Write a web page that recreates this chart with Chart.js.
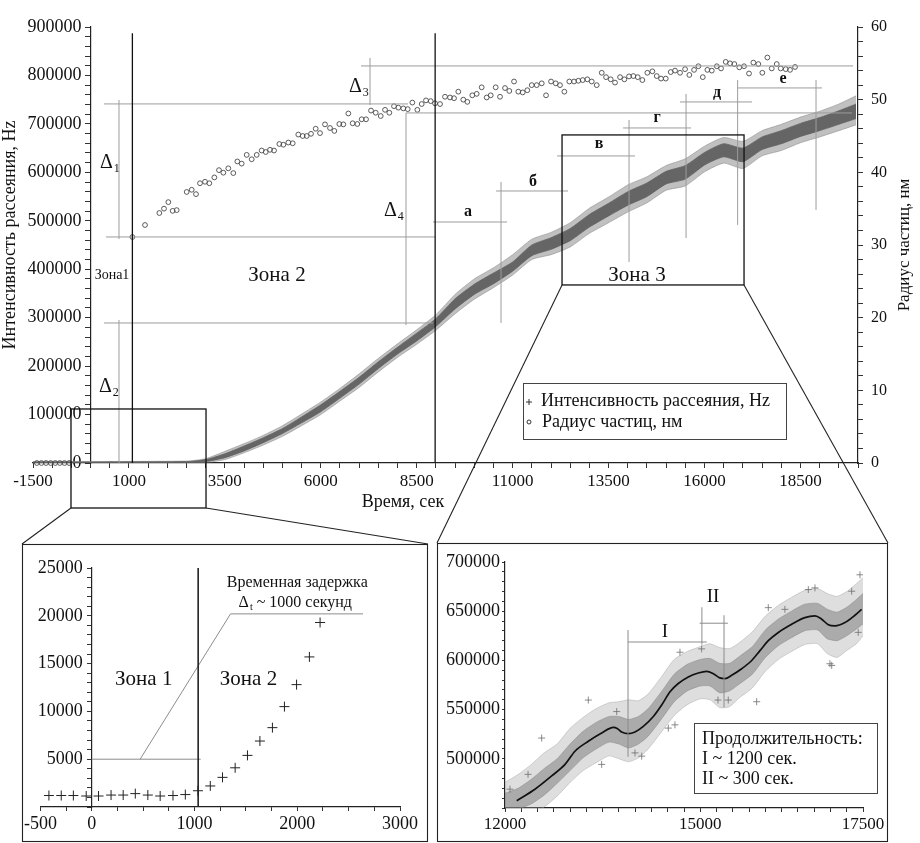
<!DOCTYPE html>
<html lang="ru">
<head>
<meta charset="UTF-8">
<script src="https://cdn.jsdelivr.net/npm/chart.js"></script>
<style>
  body { margin: 0; background: #fff; }
  #wrap { position: relative; width: 920px; height: 843px; }
  canvas { position: absolute; }
</style>
<title>Интенсивность рассеяния и радиус частиц</title>
</head>
<body>
<div id="wrap">
  <canvas id="mainChart" width="920" height="843" style="left:0;top:0"></canvas>
  <canvas id="zoomLeft" width="406" height="298" style="left:22px;top:544px"></canvas>
  <canvas id="zoomRight" width="451" height="299" style="left:437px;top:543px"></canvas>
</div>

<script>
// ---------- tick labels ----------
const mainXLabels = [-1500, 1000, 3500, 6000, 8500, 11000, 13500, 16000, 18500];
const mainYLabels = [0, 100000, 200000, 300000, 400000, 500000, 600000, 700000, 800000, 900000];
const radiusLabels = [0, 10, 20, 30, 40, 50, 60];
const leftXLabels = [-500, 0, 1000, 2000, 3000];
const leftYLabels = [5000, 10000, 15000, 20000, 25000];
const rightXLabels = [12000, 15000, 17500];
const rightYLabels = [500000, 550000, 600000, 650000, 700000];

// ---------- main chart: intensity cloud (envelopes) ----------
const mainTime = [-1500, 2500, 3000, 3500, 4000, 4500, 5000, 5500, 6000, 6500, 7000, 7500, 8000, 8500, 9000, 9500, 10000, 10500, 11000, 11500, 12000, 12500, 13000, 13500, 14000, 14500, 15000, 15500, 16000, 16500, 17000, 17500, 18000, 18500, 19000, 19500, 19950];
const mainOuterHigh = [3000, 4000, 9000, 24000, 40000, 57000, 77000, 101000, 126000, 154000, 184000, 216000, 246000, 275000, 306000, 348000, 380000, 403000, 430000, 462000, 476000, 496000, 526000, 549000, 574000, 591000, 614000, 628000, 654000, 672000, 664000, 686000, 699000, 714000, 726000, 741000, 758000];
const mainOuterLow = [-1000, 0, 1000, 7000, 21000, 37000, 55000, 77000, 100000, 128000, 156000, 188000, 218000, 245000, 274000, 308000, 338000, 362000, 388000, 420000, 430000, 446000, 474000, 496000, 518000, 537000, 563000, 572000, 601000, 619000, 608000, 634000, 645000, 661000, 673000, 686000, 698000];
const mainCoreHigh = [2000, 3000, 7000, 19000, 35000, 52000, 71000, 95000, 120000, 148000, 177000, 209000, 239000, 268000, 298000, 339000, 369000, 392000, 415000, 450000, 465000, 484000, 513000, 536000, 560000, 578000, 602000, 614000, 641000, 659000, 650000, 673000, 686000, 701000, 713000, 727000, 741000];
const mainCoreLow = [0, 1000, 3000, 11000, 25000, 42000, 61000, 83000, 106000, 134000, 163000, 195000, 225000, 252000, 282000, 318000, 348000, 370000, 396000, 428000, 441000, 459000, 487000, 510000, 532000, 550000, 576000, 586000, 615000, 632000, 622000, 647000, 659000, 674000, 686000, 699000, 711000];

// ---------- main chart: particle radius, nm ----------
const radiusTime = [-1400, -1280, -1160, -1040, -920, -800, -680, -560, 1090,
  1419, 1793, 1914, 2027, 2140, 2245, 2505, 2636, 2748, 2852, 2983, 3095, 3226, 3347, 3460, 3590, 3720, 3825, 3938, 4069,
  4199, 4330, 4460, 4565, 4677, 4781, 4920, 5024, 5154, 5268, 5414, 5529, 5633, 5745, 5867, 5980, 6110, 6240, 6353, 6483,
  6587, 6718, 6831, 6952, 7066, 7179, 7309, 7431, 7562, 7674, 7786, 7908, 8021, 8151, 8265, 8386, 8516, 8630, 8742, 8865,
  8977, 9107, 9237, 9368, 9472, 9584, 9714, 9819, 9949, 10063, 10193, 10324, 10428, 10558, 10671, 10801, 10913, 11036, 11148, 11262,
  11382, 11497, 11627, 11758, 11870, 12000, 12123, 12234, 12347, 12477, 12600, 12712, 12826, 12946, 13061, 13191, 13322, 13434, 13556, 13668,
  13799, 13911, 14033, 14146, 14260, 14380, 14510, 14641, 14755, 14867, 14990, 15120, 15232, 15362, 15493, 15605, 15728, 15840, 15955, 16075,
  16190, 16320, 16431, 16553, 16665, 16777, 16907, 17030, 17160, 17273, 17403, 17507, 17638, 17752, 17882, 17986, 18117, 18229, 18359];
const radiusValue = [0, 0, 0, 0, 0, 0, 0, 0, 31.1,
  32.75, 34.4, 35.0, 35.9, 34.7, 34.8, 37.3, 37.6, 37.0, 38.5, 38.7, 38.5, 39.3, 40.3, 39.95, 40.55, 39.9, 41.5, 41.2, 42.4,
  41.8, 42.4, 43.0, 42.8, 43.1, 43.0, 43.9, 43.8, 44.1, 44.0, 45.2, 45.0, 45.0, 45.3, 46.0, 45.4, 46.6, 46.1, 45.7, 46.65,
  46.6, 48.1, 46.75, 46.65, 47.3, 47.3, 48.5, 48.2, 47.75, 48.6, 48.2, 49.1, 48.9, 48.8, 48.7, 49.6, 48.6, 49.4, 49.9, 49.8,
  49.5, 49.4, 50.4, 50.3, 50.2, 51.1, 50.0, 49.7, 50.6, 50.8, 51.7, 50.3, 50.6, 51.7, 50.4, 51.6, 51.2, 52.5, 51.1, 51.0,
  51.3, 52.0, 52.0, 52.25, 50.6, 52.5, 52.25, 52.0, 51.1, 52.5, 52.5, 52.6, 52.7, 52.8, 52.5, 52.0, 53.7, 53.1, 52.8, 52.35,
  53.1, 52.8, 53.2, 53.25, 53.1, 52.7, 53.7, 53.9, 53.25, 52.9, 52.9, 53.8, 54.0, 53.7, 54.2, 53.4, 54.1, 54.6, 53.1, 54.1,
  54.0, 54.6, 54.3, 55.2, 55.0, 54.9, 54.45, 54.6, 53.6, 55.1, 54.9, 53.7, 55.8, 54.3, 54.9, 54.3, 54.2, 54.1, 54.5];

// ---------- left inset: start of growth ----------
const leftTime = [-418, -298, -180, -55, 65, 187, 305, 423, 545, 665, 790, 910, 1033, 1153, 1272, 1395, 1515, 1636, 1758, 1875, 1993, 2118, 2222];
const leftValue = [1200, 1200, 1200, 1150, 1150, 1250, 1250, 1400, 1250, 1150, 1200, 1300, 1700, 2200, 3100, 4100, 5400, 6900, 8300, 10500, 12800, 15700, 19300];

// ---------- right inset: zone 3 ----------
const cloudTime = [12000, 12200, 12400, 12600, 12800, 13000, 13200, 13400, 13600, 13750, 13900, 14050, 14200, 14400, 14600, 14800, 15000, 15150, 15300, 15450, 15600, 15800, 16000, 16200, 16400, 16600, 16800, 16950, 17100, 17250, 17400, 17500];
const cloudOuterHigh = [476000, 484000, 494000, 506000, 515000, 531000, 542000, 551000, 557000, 558000, 560000, 559000, 566000, 583000, 601000, 609000, 614000, 617000, 613000, 612000, 618000, 629000, 645000, 656000, 664000, 671000, 673000, 668000, 665000, 670000, 678000, 684000];
const cloudOuterLow = [440000, 440000, 443000, 451000, 462000, 476000, 488000, 496000, 503000, 500000, 497000, 501000, 510000, 527000, 544000, 555000, 561000, 560000, 552000, 553000, 562000, 572000, 589000, 601000, 609000, 616000, 617000, 607000, 603000, 610000, 617000, 625000];
const cloudCoreHigh = [465000, 470000, 479000, 490000, 500000, 515000, 528000, 537000, 543000, 543000, 540000, 543000, 551000, 568000, 586000, 596000, 601000, 602000, 597000, 597000, 604000, 614000, 631000, 642000, 650000, 657000, 658000, 652000, 649000, 654000, 662000, 668000];
const cloudCoreLow = [446000, 449000, 454000, 463000, 475000, 488000, 501000, 510000, 517000, 515000, 511000, 515000, 523000, 540000, 558000, 569000, 574000, 574000, 567000, 569000, 576000, 586000, 603000, 615000, 623000, 630000, 631000, 622000, 620000, 625000, 632000, 637000];
const strayTime = [12077, 12354, 12563, 13280, 13485, 13716, 13997, 14100, 14509, 14611, 14688, 15021, 15272, 15430, 15866, 16045, 16300, 16660, 16762, 16992, 17019, 17326, 17427, 17453];
const strayValue = [469100, 484200, 521100, 559700, 494300, 548000, 506000, 502700, 531200, 534500, 608300, 611700, 559700, 559700, 558000, 653600, 651900, 672000, 673700, 596600, 594900, 670300, 628500, 687000];
const trendTime = [12180, 12460, 12717, 12922, 13075, 13280, 13485, 13665, 13730, 13792, 13895, 13997, 14125, 14279, 14407, 14535, 14662, 14816, 14970, 15098, 15200, 15300, 15380, 15482, 15636, 15790, 15917, 16045, 16199, 16404, 16608, 16762, 16865, 16967, 17069, 17223, 17376, 17479];
const trendValue = [457400, 469100, 482600, 494300, 507700, 517800, 526200, 531900, 530500, 527200, 525500, 527200, 532900, 543000, 554700, 568100, 576500, 583200, 587200, 588800, 586500, 582200, 581500, 584800, 591500, 599900, 609900, 620000, 628400, 636800, 643500, 645200, 641900, 636200, 635100, 638500, 645900, 651900];

// ---------- guide lines (data units: x1, y1, x2, y2) ----------
const mainGuides = [
  [350, 741200, 8273, 741200], [741, 749400, 741, 462400], [402, 466600, 8977, 466600],
  [741, 295200, 741, 0], [350, 289000, 8925, 289000], [7283, 836100, 7283, 739100],
  [7048, 819600, 19871, 819600], [8221, 722600, 19845, 722600], [8221, 722600, 8221, 284900],
  [8925, 497500, 10854, 497500], [10697, 580100, 10697, 289000], [10567, 561500, 12443, 561500],
  [12157, 633800, 14190, 633800], [14033, 708100, 14033, 415000], [13877, 691600, 15649, 691600],
  [15519, 761800, 15519, 464500], [15362, 745300, 17238, 745300], [16863, 790700, 16863, 491400],
  [16874, 774200, 19063, 774200], [18906, 790700, 18906, 522300]
];
const mainZoneLines = [[1090, 0, 1090, 887000], [8980, 0, 8980, 887000]];
const zone3Box = [12287, 367500, 17030, 677200];
const zone12Box = [-510, -92900, 3009, 111500];
const deltaMarks = [[246, 619350, '1'], [220, 156900, '2'], [6735, 776250, '3'], [7647, 520250, '4']];
const mainZoneTexts = [['Зона1', 559, 388100, 14], ['Зона 2', 4859, 388100, 21], ['Зона 3', 14241, 388100, 21]];
const stageLetters = [['а', 9837, 518200], ['б', 11531, 580100], ['в', 13251, 658600], ['г', 14763, 712300], ['д', 16327, 763900], ['е', 18047, 792800]];

const leftGuides = [[0, 5000, 1060, 5000], [470, 5000, 1350, 20200], [1350, 20200, 2640, 20200]];
const rightGuides = [
  [13890, 502000, 13890, 630800], [13890, 618700, 15100, 618700], [15025, 654000, 15025, 616000],
  [15365, 645900, 15365, 552300], [14990, 637800, 15425, 637800]
];

// page layout of the two insets
const insetL = { x: 22, y: 544, w: 406, h: 298 };
const insetR = { x: 437, y: 543, w: 451, h: 299 };

const SERIF = '"Liberation Serif", "DejaVu Serif", serif';
Chart.defaults.font.family = SERIF;
Chart.defaults.color = '#111';
Chart.defaults.animation = false;

function pts(xs, ys) { return xs.map((x, i) => ({ x: x, y: ys[i] })); }

function bandSets(xs, hi, lo, color, edge, order) {
  return [
    { data: pts(xs, hi), fill: '+1', backgroundColor: color, borderColor: edge, borderWidth: 1,
      pointRadius: 0, tension: 0.2, order: order },
    { data: pts(xs, lo), fill: false, borderColor: edge, borderWidth: 1,
      pointRadius: 0, tension: 0.2, order: order }
  ];
}

function line(ctx, x1, y1, x2, y2) {
  ctx.beginPath(); ctx.moveTo(x1, y1); ctx.lineTo(x2, y2); ctx.stroke();
}

function drawDelta(ctx, x, y, sub, size) {
  ctx.textAlign = 'left'; ctx.textBaseline = 'middle';
  ctx.font = size + 'px ' + SERIF;
  ctx.fillText('Δ', x, y);
  const w = ctx.measureText('Δ').width;
  ctx.font = Math.round(size * 0.6) + 'px ' + SERIF;
  ctx.fillText(sub, x + w + 1, y + size * 0.3);
  return w + 1 + ctx.measureText(sub).width;
}

function axisOpts(extra) {
  return Object.assign({
    grid: { drawOnChartArea: false, drawTicks: true, tickLength: 5, tickColor: '#333' },
    border: { color: '#222', width: 1.2 }
  }, extra);
}

// ---------- main chart ----------
const mainDecor = {
  id: 'mainDecor',
  afterDraw(chart) {
    const ctx = chart.ctx, sx = chart.scales.x, sy = chart.scales.y;
    const X = v => sx.getPixelForValue(v), Y = v => sy.getPixelForValue(v);
    ctx.save();
    ctx.strokeStyle = '#9c9c9c'; ctx.lineWidth = 1;
    mainGuides.forEach(g => line(ctx, X(g[0]), Y(g[1]), X(g[2]), Y(g[3])));

    ctx.strokeStyle = '#111'; ctx.lineWidth = 1.3;
    mainZoneLines.forEach(g => line(ctx, X(g[0]), Y(g[1]), X(g[2]), Y(g[3])));
    [zone3Box, zone12Box].forEach(b => {
      ctx.strokeRect(X(b[0]), Y(b[3]), X(b[2]) - X(b[0]), Y(b[1]) - Y(b[3]));
    });

    // inset frames and connectors
    ctx.lineWidth = 1.1; ctx.strokeStyle = '#222';
    ctx.strokeRect(insetL.x + 0.5, insetL.y + 0.5, insetL.w - 1, insetL.h - 1);
    ctx.strokeRect(insetR.x + 0.5, insetR.y + 0.5, insetR.w - 1, insetR.h - 1);
    line(ctx, X(zone12Box[0]), Y(zone12Box[1]), insetL.x, insetL.y);
    line(ctx, X(zone12Box[2]), Y(zone12Box[1]), insetL.x + insetL.w, insetL.y);
    line(ctx, X(zone3Box[0]), Y(zone3Box[1]), insetR.x, insetR.y);
    line(ctx, X(zone3Box[2]), Y(zone3Box[1]), insetR.x + insetR.w, insetR.y);

    ctx.fillStyle = '#111';
    deltaMarks.forEach(d => drawDelta(ctx, X(d[0]), Y(d[1]), d[2], 20));
    ctx.textAlign = 'center'; ctx.textBaseline = 'middle';
    mainZoneTexts.forEach(t => { ctx.font = t[3] + 'px ' + SERIF; ctx.fillText(t[0], X(t[1]), Y(t[2])); });
    ctx.font = 'bold 16px ' + SERIF;
    stageLetters.forEach(t => ctx.fillText(t[0], X(t[1]), Y(t[2])));

    // axis titles
    ctx.font = '18px ' + SERIF;
    ctx.fillText('Время, сек', 403, 502);
    ctx.save(); ctx.translate(10, 235); ctx.rotate(-Math.PI / 2);
    ctx.fillText('Интенсивность рассеяния, Hz', 0, 0); ctx.restore();
    ctx.save(); ctx.translate(905, 245); ctx.rotate(-Math.PI / 2);
    ctx.font = '17px ' + SERIF;
    ctx.fillText('Радиус частиц, нм', 0, 0); ctx.restore();

    // legend
    ctx.fillStyle = '#fff';
    ctx.fillRect(523.5, 383.5, 263, 56);
    ctx.strokeStyle = '#444'; ctx.lineWidth = 1;
    ctx.strokeRect(523.5, 383.5, 263, 56);
    ctx.strokeStyle = '#333';
    line(ctx, 526, 402, 532, 402); line(ctx, 529, 399, 529, 405);
    ctx.beginPath(); ctx.arc(529, 422, 2, 0, Math.PI * 2); ctx.stroke();
    ctx.fillStyle = '#111'; ctx.textAlign = 'left'; ctx.font = '18px ' + SERIF;
    ctx.fillText('Интенсивность рассеяния, Hz', 541, 401);
    ctx.fillText('Радиус частиц, нм', 542, 422);
    ctx.restore();
  }
};

new Chart(document.getElementById('mainChart'), {
  type: 'line',
  data: {
    datasets: [
      { data: pts(radiusTime, radiusValue), yAxisID: 'y1', showLine: false, pointStyle: 'circle',
        pointRadius: 2.4, pointBorderWidth: 0.9, pointBorderColor: '#4a4a4a',
        pointBackgroundColor: 'rgba(255,255,255,0)', clip: false, order: 1 },
      ...bandSets(mainTime, mainCoreHigh, mainCoreLow, 'rgba(92,92,92,0.9)', 'rgba(100,100,100,0.8)', 3),
      ...bandSets(mainTime, mainOuterHigh, mainOuterLow, 'rgba(130,130,130,0.5)', 'rgba(140,140,140,0.55)', 4)
    ]
  },
  options: {
    responsive: false,
    layout: { padding: { left: 33, right: 0, top: 27, bottom: 320 } },
    plugins: { legend: { display: false }, tooltip: { enabled: false } },
    scales: {
      x: axisOpts({
        type: 'linear', position: 'bottom', min: -1500, max: 20000,
        afterFit: s => { s.height = 60; },
        ticks: { stepSize: 500, autoSkip: false, maxRotation: 0, padding: 3, font: { size: 17 },
          callback: v => mainXLabels.includes(v) ? String(v) : '' }
      }),
      y: axisOpts({
        position: { x: 0 }, min: 0, max: 900000,
        afterFit: s => { s.width = 0; },
        ticks: { stepSize: 20000, autoSkip: false, padding: 4, font: { size: 18 },
          callback: v => mainYLabels.includes(v) ? v + '\u2002' : '' }
      }),
      y1: axisOpts({
        position: 'right', min: 0, max: 60,
        afterFit: s => { s.width = 62; },
        ticks: { stepSize: 2, autoSkip: false, padding: 8, font: { size: 16 },
          callback: v => radiusLabels.includes(v) ? String(v) : '' }
      })
    }
  },
  plugins: [mainDecor]
});

// ---------- left inset ----------
const leftDecor = {
  id: 'leftDecor',
  afterDraw(chart) {
    const ctx = chart.ctx, sx = chart.scales.x, sy = chart.scales.y;
    const X = v => sx.getPixelForValue(v), Y = v => sy.getPixelForValue(v);
    ctx.save();
    ctx.strokeStyle = '#8c8c8c'; ctx.lineWidth = 1;
    leftGuides.forEach(g => line(ctx, X(g[0]), Y(g[1]), X(g[2]), Y(g[3])));
    ctx.strokeStyle = '#222'; ctx.lineWidth = 1.6;
    line(ctx, X(1035), Y(0), X(1035), Y(25000));
    ctx.fillStyle = '#111'; ctx.textAlign = 'center'; ctx.textBaseline = 'middle';
    ctx.font = '21px ' + SERIF;
    ctx.fillText('Зона 1', X(505), Y(13300));
    ctx.fillText('Зона 2', X(1525), Y(13300));
    ctx.font = '16px ' + SERIF;
    ctx.fillText('Временная задержка', X(2000), Y(23400));
    // "Δt ~ 1000 секунд"
    const rest = ' ~ 1000 секунд';
    ctx.font = '16px ' + SERIF;
    const wRest = ctx.measureText(rest).width;
    const x0 = X(1990) - (wRest + 16) / 2, y0 = Y(21400);
    const wD = drawDelta(ctx, x0, y0, 't', 16);
    ctx.font = '16px ' + SERIF; ctx.textAlign = 'left';
    ctx.fillText(rest, x0 + wD, y0);
    ctx.restore();
  }
};

new Chart(document.getElementById('zoomLeft'), {
  type: 'line',
  data: {
    datasets: [{
      data: pts(leftTime, leftValue), showLine: false, pointStyle: 'cross', pointRadius: 5,
      pointBorderColor: '#222', pointBorderWidth: 1, clip: false
    }]
  },
  options: {
    responsive: false,
    layout: { padding: { left: 17, right: 28, top: 24, bottom: 0 } },
    plugins: { legend: { display: false }, tooltip: { enabled: false } },
    scales: {
      x: axisOpts({
        type: 'linear', position: 'bottom', min: -500, max: 3000,
        afterFit: s => { s.height = 35; },
        grid: { drawOnChartArea: false, tickLength: 4, tickColor: '#333' },
        ticks: { stepSize: 250, autoSkip: false, maxRotation: 0, padding: 2, font: { size: 18 },
          callback: v => leftXLabels.includes(v) ? String(v) : '' }
      }),
      y: axisOpts({
        position: { x: 0 }, min: 0, max: 25000,
        afterFit: s => { s.width = 0; },
        grid: { drawOnChartArea: false, tickLength: 4, tickColor: '#333' },
        ticks: { stepSize: 1000, autoSkip: false, font: { size: 18 },
          callback: v => leftYLabels.includes(v) ? v + '\u2002' : '' }
      })
    }
  },
  plugins: [leftDecor]
});

// ---------- right inset ----------
const rightDecor = {
  id: 'rightDecor',
  afterDraw(chart) {
    const ctx = chart.ctx, sx = chart.scales.x, sy = chart.scales.y;
    const X = v => sx.getPixelForValue(v), Y = v => sy.getPixelForValue(v);
    ctx.save();
    ctx.strokeStyle = '#8c8c8c'; ctx.lineWidth = 1;
    rightGuides.forEach(g => line(ctx, X(g[0]), Y(g[1]), X(g[2]), Y(g[3])));
    ctx.fillStyle = '#111'; ctx.textAlign = 'center'; ctx.textBaseline = 'middle';
    ctx.font = '19px ' + SERIF;
    ctx.fillText('I', X(14458), Y(629000));
    ctx.fillText('II', X(15195), Y(664000));
    // duration box
    ctx.fillStyle = '#fff';
    ctx.fillRect(257.5, 180.5, 183, 70);
    ctx.strokeStyle = '#444';
    ctx.strokeRect(257.5, 180.5, 183, 70);
    ctx.fillStyle = '#111'; ctx.textAlign = 'left'; ctx.font = '18px ' + SERIF;
    ctx.fillText('Продолжительность:', 265, 196);
    ctx.fillText('I ~ 1200 сек.', 265, 216);
    ctx.fillText('II ~ 300 сек.', 265, 236);
    ctx.restore();
  }
};

new Chart(document.getElementById('zoomRight'), {
  type: 'line',
  data: {
    datasets: [
      { data: pts(trendTime, trendValue), borderColor: '#111', borderWidth: 1.7, pointRadius: 0,
        cubicInterpolationMode: 'monotone', fill: false, order: 1 },
      { data: pts(strayTime, strayValue), showLine: false, pointStyle: 'cross', pointRadius: 3.5,
        pointBorderColor: 'rgba(110,110,110,0.8)', pointBorderWidth: 1, order: 2 },
      ...bandSets(cloudTime, cloudCoreHigh, cloudCoreLow, 'rgba(120,120,120,0.5)', 'rgba(130,130,130,0.45)', 3),
      ...bandSets(cloudTime, cloudOuterHigh, cloudOuterLow, 'rgba(160,160,160,0.35)', 'rgba(165,165,165,0.45)', 4)
    ]
  },
  options: {
    responsive: false,
    layout: { padding: { left: 0, right: 25, top: 19, bottom: 0 } },
    plugins: { legend: { display: false }, tooltip: { enabled: false } },
    scales: {
      x: axisOpts({
        type: 'linear', position: 'bottom', min: 12000, max: 17500,
        afterFit: s => { s.height = 34; },
        grid: { drawOnChartArea: false, tickLength: 4, tickColor: '#333' },
        ticks: { stepSize: 250, autoSkip: false, maxRotation: 0, padding: 2, font: { size: 17 },
          callback: v => rightXLabels.includes(v) ? String(v) : '' }
      }),
      y: axisOpts({
        position: 'left', min: 450000, max: 700000,
        afterFit: s => { s.width = 68; },
        grid: { drawOnChartArea: false, tickLength: 3, tickColor: '#333' },
        ticks: { stepSize: 10000, autoSkip: false, padding: 2, font: { size: 18 },
          callback: v => rightYLabels.includes(v) ? String(v) : '' }
      })
    }
  },
  plugins: [rightDecor]
});
</script>
</body>
</html>
